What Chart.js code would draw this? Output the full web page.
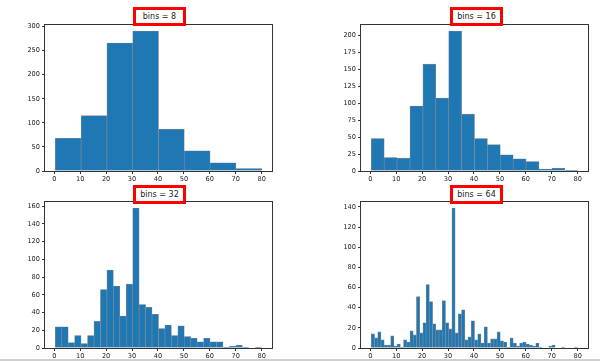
<!DOCTYPE html>
<html lang="en">
<head>
    <meta charset="UTF-8">
    <title>Age histograms</title>
    <script src="https://cdn.jsdelivr.net/npm/chart.js"></script>
    <style>
        body { margin: 0; background: #fff; }
        .wrap { position: relative; width: 600px; height: 361px; overflow: hidden; }
        canvas { position: absolute; }
        .title {
            position: absolute;
            box-sizing: border-box;
            border: 3px solid #f00;
            background: #fff;
            font-family: "DejaVu Sans", sans-serif;
            font-size: 8px;
            color: #222;
            text-align: center;
            z-index: 2;
        }
        .rule { position: absolute; left: 0; top: 359px; width: 600px; height: 2px; background: #cfcfcf; }
    </style>
</head>
<body>
    <div class="wrap">
        <canvas id="c8" width="280" height="177" style="left:0px;top:16px"></canvas>
        <canvas id="c16" width="280" height="177" style="left:316px;top:16px"></canvas>
        <canvas id="c32" width="280" height="177" style="left:0px;top:193px"></canvas>
        <canvas id="c64" width="280" height="177" style="left:316px;top:193px"></canvas>
        <div class="title" style="left:133px;top:7px;width:53px;height:19px;line-height:13px">bins = 8</div>
        <div class="title" style="left:450px;top:7px;width:53px;height:19px;line-height:13px">bins = 16</div>
        <div class="title" style="left:133px;top:185px;width:53px;height:19px;line-height:13px">bins = 32</div>
        <div class="title" style="left:450px;top:185px;width:53px;height:19px;line-height:13px">bins = 64</div>
        <div class="rule"></div>
    </div>
    <script>
        // age range of the histogram
        const minAge = 0.42;
        const maxAge = 80;
        const xTicks = [0, 10, 20, 30, 40, 50, 60, 70, 80];

        const counts8 = [68, 115, 266, 291, 87, 42, 17, 5];
        const counts16 = [48, 20, 19, 96, 158, 108, 207, 84, 48, 39, 24, 18, 14, 3, 4, 1];
        const counts32 = [24, 24, 6, 14, 5, 14, 30, 66, 88, 70, 36, 72, 158, 49, 46, 38,
                          22, 26, 14, 25, 13, 11, 7, 11, 7, 7, 1, 2, 3, 1, 0, 1];
        const counts64 = [14, 10, 16, 8, 3, 3, 12, 2, 4, 1, 8, 6, 17, 13, 51, 15,
                          25, 63, 46, 24, 18, 18, 47, 25, 19, 139, 15, 34, 38, 8, 11, 27,
                          8, 14, 5, 21, 5, 9, 9, 16, 7, 6, 1, 10, 5, 2, 5, 6,
                          4, 3, 2, 5, 1, 0, 0, 2, 3, 0, 0, 1, 0, 0, 0, 1];

        const yTicks8 = [0, 50, 100, 150, 200, 250, 300];
        const yTicks16 = [0, 25, 50, 75, 100, 125, 150, 175, 200];
        const yTicks32 = [0, 20, 40, 60, 80, 100, 120, 140, 160];
        const yTicks64 = [0, 20, 40, 60, 80, 100, 120, 140];

        const tickFont = { family: 'DejaVu Sans', size: 6.6 };

        const frame = {
            id: 'frame',
            afterDraw(chart) {
                const { ctx, chartArea: a } = chart;
                ctx.save();
                ctx.strokeStyle = '#333';
                ctx.lineWidth = 1;
                ctx.strokeRect(Math.round(a.left) - 0.5, Math.round(a.top) + 0.5,
                    Math.round(a.right - a.left) + 1, Math.round(a.bottom - a.top));
                ctx.restore();
            }
        };

        function drawHist(id, counts, yTicks) {
            const w = (maxAge - minAge) / counts.length;
            const pad = (maxAge - minAge) * 0.05;
            const points = counts.map((c, i) => ({ x: minAge + (i + 0.5) * w, y: c }));
            new Chart(document.getElementById(id), {
                type: 'bar',
                data: {
                    datasets: [{
                        data: points,
                        backgroundColor: '#1f77b4',
                        borderColor: '#8c8c8c',
                        borderWidth: 0.6,
                        barPercentage: 1,
                        categoryPercentage: 1
                    }]
                },
                options: {
                    responsive: false,
                    animation: false,
                    events: [],
                    devicePixelRatio: 1,
                    layout: { padding: { top: 8, right: 8, left: 0, bottom: 0 } },
                    plugins: { legend: { display: false }, tooltip: { enabled: false } },
                    scales: {
                        x: {
                            type: 'linear',
                            offset: false,
                            min: minAge - pad,
                            max: maxAge + pad,
                            afterBuildTicks: s => { s.ticks = xTicks.map(v => ({ value: v })); },
                            afterFit: s => { s.height = 22; },
                            grid: { display: true, offset: false, drawOnChartArea: false, drawTicks: true, tickLength: 3, color: '#333' },
                            border: { display: false },
                            ticks: { font: tickFont, color: '#222', padding: 1, maxRotation: 0, autoSkip: false }
                        },
                        y: {
                            min: 0,
                            max: Math.max(...counts) * 1.05,
                            afterBuildTicks: s => { s.ticks = yTicks.map(v => ({ value: v })); },
                            afterFit: s => { s.width = 45; },
                            grid: { display: true, drawOnChartArea: false, drawTicks: true, tickLength: 3, color: '#333' },
                            border: { display: false },
                            ticks: { font: tickFont, color: '#222', padding: 2, autoSkip: false }
                        }
                    }
                },
                plugins: [frame]
            });
        }

        drawHist('c8', counts8, yTicks8);
        drawHist('c16', counts16, yTicks16);
        drawHist('c32', counts32, yTicks32);
        drawHist('c64', counts64, yTicks64);
    </script>
</body>
</html>
